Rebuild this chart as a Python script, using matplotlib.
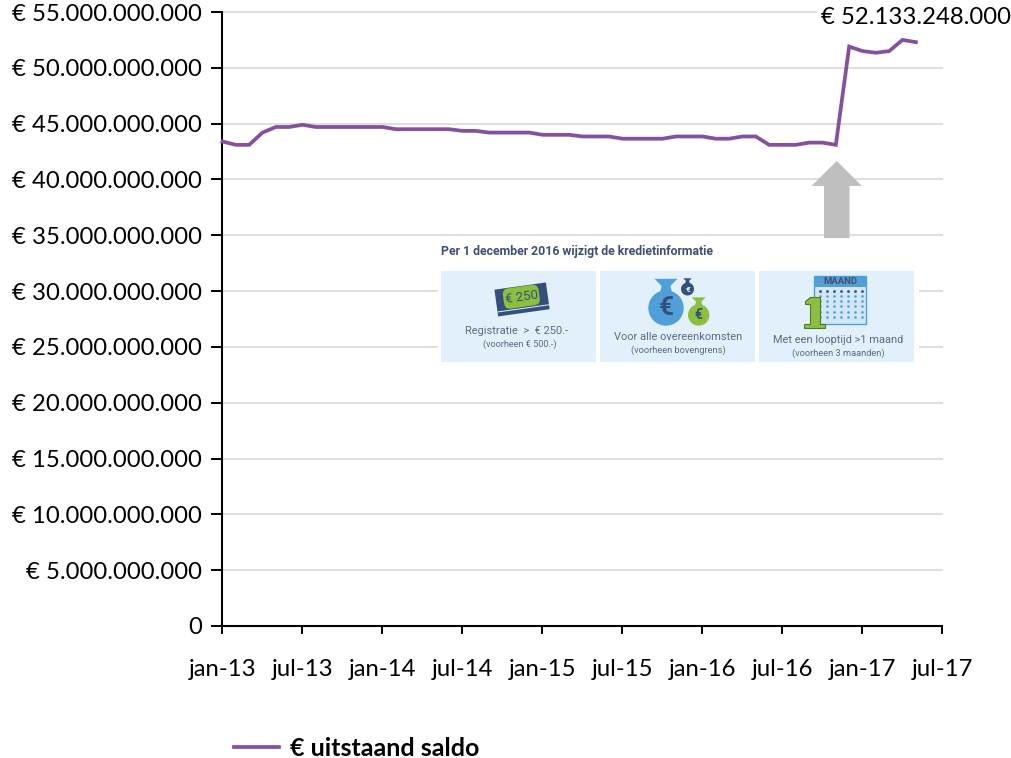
import numpy as np
import matplotlib
matplotlib.use('Agg')
import matplotlib.pyplot as plt
from matplotlib.patches import Rectangle, Polygon, Circle, FancyBboxPatch
from matplotlib.transforms import Affine2D

plt.rcParams['font.family'] = ['Lato', 'DejaVu Sans']

# monthly values in billions of euro, jan-13 to may-17
saldo_mld = [43.4, 43.1, 43.1, 44.2, 44.7, 44.7, 44.9, 44.7, 44.7, 44.7, 44.7, 44.7,
             44.7, 44.5, 44.5, 44.5, 44.5, 44.5, 44.35, 44.35, 44.2, 44.2, 44.2, 44.2,
             44.0, 44.0, 44.0, 43.85, 43.85, 43.85, 43.65, 43.65, 43.65, 43.65, 43.85, 43.85,
             43.85, 43.65, 43.65, 43.85, 43.85, 43.1, 43.1, 43.1, 43.3, 43.3, 43.1, 51.9,
             51.5, 51.35, 51.5, 52.5, 52.3]
x_labels = ['jan-13', 'jul-13', 'jan-14', 'jul-14', 'jan-15', 'jul-15', 'jan-16', 'jul-16',
            'jan-17', 'jul-17']
y_ticks = [0, 5, 10, 15, 20, 25, 30, 35, 40, 45, 50, 55]
series_name = '€ uitstaand saldo'
end_label = '€ 52.133.248.000'

W, H = 1012, 758
fig = plt.figure(figsize=(W / 100, H / 100), dpi=100)
ax = fig.add_axes([222.5 / W, 1 - 626 / H, 720 / W, 614 / H])

months = np.arange(len(saldo_mld))
values = np.array(saldo_mld) * 1e9
ax.plot(months, values, '-', color='#8650A1', linewidth=2.7, label=series_name,
        solid_joinstyle='miter', zorder=3, clip_on=False)

ax.set_xlim(0, 54)
ax.set_ylim(0, 55e9)
ax.set_xticks(np.arange(len(x_labels)) * 6)
ax.set_xticklabels(x_labels)
ax.set_yticks([v * 1e9 for v in y_ticks])
ax.set_yticklabels(['0' if v == 0 else '€ %d.000.000.000' % v for v in y_ticks])
ax.grid(axis='y', color='#D9D9D9', linewidth=1.2)
for gl in ax.get_ygridlines():
    gl.set_clip_on(False)
ax.set_axisbelow(True)
ax.tick_params(axis='y', labelsize=17.2, width=1.4, length=8, pad=6.5)
ax.tick_params(axis='x', labelsize=17.2, width=1.4, length=6, pad=17.5)

for side in ['top', 'right']:
    ax.spines[side].set_visible(False)
for side in ['left', 'bottom']:
    ax.spines[side].set_linewidth(1.5)

fig.legend(loc='center left', bbox_to_anchor=(226.5 / W, 1 - 748 / H), frameon=False,
           prop={'size': 18, 'weight': 'bold'}, handlelength=1.8, handletextpad=0.44,
           borderaxespad=0, borderpad=0.3)

# overlay in pixel coordinates for the pasted picture, arrow and label
ov = fig.add_axes([0, 0, 1, 1])
ov.set_xlim(0, W)
ov.set_ylim(H, 0)
ov.axis('off')
ov.patch.set_alpha(0)

ov.add_patch(Rectangle((817, 2), 195, 30, color='white', zorder=1))
ov.text(1011, 18, end_label, ha='right', va='center', fontsize=17.2, color='black', zorder=2)

ov.add_patch(Polygon([(836.7, 161), (862, 186), (849.5, 186), (849.5, 239), (824, 239),
                      (824, 186), (811.5, 186)], closed=True, color='#BFBFBF', lw=0))

# white background of the picture
ov.add_patch(Rectangle((438, 238), 481, 127, color='white', lw=0))

navy = '#3E4F6F'
grey = '#5A6B85'
light = '#E1F0FB'
blue = '#519FD8'
green = '#8CBE3F'
dark = '#34507A'

ov.text(441, 251.7, 'Per 1 december 2016 wijzigt de kredietinformatie', ha='left', va='center',
        fontsize=8.8, fontweight='bold', color=navy, family=['Roboto', 'DejaVu Sans'])
for x0 in [441, 600, 759]:
    ov.add_patch(Rectangle((x0, 271), 155.5, 91, color=light, lw=0))

small = dict(ha='center', va='center', color=grey, family=['Roboto', 'DejaVu Sans'])
ov.text(516.5, 330.7, 'Registratie  >  € 250.-', fontsize=7.9, **small)
ov.text(520, 344, '(voorheen € 500.-)', fontsize=6.6, **small)
ov.text(678, 337.3, 'Voor alle overeenkomsten', fontsize=7.9, **small)
ov.text(678, 350.7, '(voorheen bovengrens)', fontsize=6.7, **small)
ov.text(838, 340.3, 'Met een looptijd >1 maand', fontsize=7.9, **small)
ov.text(838, 353.7, '(voorheen 3 maanden)', fontsize=6.7, **small)

# banknotes icon
rot = Affine2D().rotate_deg_around(521.7, 299.3, -8) + ov.transData
ov.add_patch(Rectangle((496, 286), 52, 27, color=dark, lw=0, transform=rot))
ov.add_patch(Rectangle((496, 308), 52, 1, color=light, lw=0, transform=rot))
ov.add_patch(FancyBboxPatch((503.7, 286.5), 36, 20.5, boxstyle='round,pad=0,rounding_size=6',
                            color=green, lw=0, transform=rot))
ov.text(521.7, 297, '€ 250', ha='center', va='center', fontsize=9.5, color=dark, rotation=8,
        family=['Roboto', 'DejaVu Sans'])


# money bags icon
def bag(cx, cy, r, col, sign_col, size):
    ov.add_patch(Circle((cx, cy), r, color=col, lw=0))
    ov.add_patch(Polygon([(cx - r * 0.35, cy - r * 0.85), (cx + r * 0.35, cy - r * 0.85),
                          (cx + r * 0.25, cy - r * 1.25), (cx + r * 0.65, cy - r * 1.65),
                          (cx - r * 0.65, cy - r * 1.65), (cx - r * 0.25, cy - r * 1.25)],
                         closed=True, color=col, lw=0))
    ov.text(cx, cy, '€', ha='center', va='center', fontsize=size, color=sign_col,
            fontweight='bold', family=['Roboto', 'DejaVu Sans'])


bag(666, 308, 17.7, blue, dark, 19)
bag(687.5, 289, 6.5, dark, light, 6)
bag(698.7, 315, 10.7, green, dark, 10)

# calendar icon
ov.add_patch(Rectangle((814, 276), 52, 48, color='#D3E6F6', lw=0))
ov.add_patch(Rectangle((814, 276), 52, 48, fill=False, ec=blue, lw=1))
ov.add_patch(Rectangle((814, 276), 52, 10.5, color=blue, lw=0))
ov.text(840, 281.5, 'MAAND', ha='center', va='center', fontsize=6.8, fontweight='bold', color=navy,
        family=['Roboto', 'DejaVu Sans'])
dot_x = 820 + np.arange(7) * 7
dot_y = 290.5 + np.arange(6) * 5.3
gx, gy = np.meshgrid(dot_x, dot_y)
ov.scatter(gx.ravel(), gy.ravel(), s=3.5, color=blue, lw=0)
ov.scatter(dot_x, np.full(7, dot_y[0]), s=3.5, color=navy, lw=0)
ov.add_patch(Polygon([(810, 297), (820, 297), (820, 324), (825, 324), (825, 328), (804, 328),
                      (804, 324), (810, 324), (810, 304), (805, 304), (805, 301)], closed=True,
                     fc=green, ec='#4F7A2A', lw=0.8))

plt.savefig('out.png', dpi=100)
